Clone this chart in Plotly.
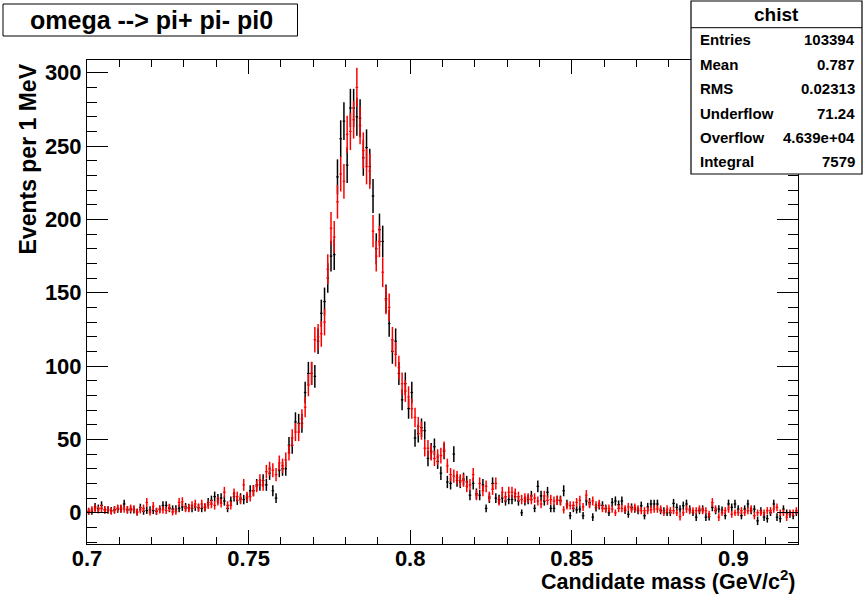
import numpy as np
import plotly.graph_objects as go

# ---------------- data ----------------
bin_lo = 0.700
bin_w = 0.001
n_bins = 220

black_counts = [
    1, 1, 4, 3, 5, 2, 2, 1.5, 2, 2.5,
    2.5, 6, 2, 2, 2, 0.5, 3.5, 1, 1.5, 2,
    1.5, 1, 2.5, 5, 5, 3, 2.5, 2.5, 3, 4,
    4, 3.5, 3, 4, 3.5, 3, 3.5, 7, 8.5, 11,
    9.5, 10, 8, 3, 8, 11, 8.5, 10, 9, 10,
    15, 15, 19, 19, 22, 19, 27, 15, 10, 29,
    30, 30, 46, 46, 62, 61, 61, 82, 95, 95,
    93, 117, 136, 144, 160, 175, 176, 229, 255, 267,
    237, 276, 276, 270, 269, 242, 249, 236, 216, 180,
    193, 185, 146, 129, 110, 117, 95, 77, 88, 71,
    82, 51, 54, 58, 56, 37, 42, 45, 35, 27,
    42, 21, 20, 40, 22, 21, 23, 21, 12, 20,
    13, 12, 19, 3, 10, 20, 10, 9, 10, 8,
    9, 9, 11, 8, 0, 8, 9, 11.5, 3, 18,
    11.5, 8, 14, 3, 3, 8.5, 8.5, 15, 6, -2,
    3, 2, 2.5, -2, 8, 7, -3, 3.5, 5, 5,
    3, 0, 7, 8, 5.5, 8, 1.5, -1, 3.7, 2.5,
    1.4, 4.8, -2, 4, 6, 6, 6, 1.4, 1.4, 0,
    0, 6.4, 3.7, 2.5, 4.8, 6, 2.5, 0, -3, 1.4,
    2.5, -3, -2.7, 3.7, 1.4, 2.5, 1.8, -2, 6, 3.7,
    6, 2.5, -2, 2.5, 6, 1.4, 2.5, -5.5, 1.4, -3,
    -4, 0, 6, -3, -4, 2.5, 0, -1, -2, 0,
]

red_counts = [
    1, 2, 3, 2, 3, 2, 2, 1, 2, 3,
    3, 2.5, 2, 3, 2.5, 0.5, 2, 3, 7, 0.5,
    4.5, 1, 2, 2, 1.5, 3.5, 0.5, 1, 7, 7.5,
    3, 3, 5, 6, 3.5, 6, 4, 5.5, 6, 5,
    8, 6.5, 14, 5, 5, 13, 11, 9, 19, 11,
    11, 15, 18, 22, 19, 28, 30, 29, 26, 34,
    32, 36, 41, 51, 55, 55, 64, 72, 87, 95,
    118, 120, 122, 130, 166, 194, 188, 212, 231, 226,
    258, 260, 268, 290, 264, 247, 236, 233, 192, 175,
    185, 164, 145, 140, 118, 108, 99, 88, 83, 79,
    71, 65, 59, 56, 44, 44, 41, 37, 38, 39,
    43, 32, 26, 25, 24, 22, 22, 18, 19, 26,
    12, 20, 15, 18, 11, 16, 20, 8, 14, 11,
    14, 14, 13, 11, 9, 10, 10, 9, 10, 8,
    6, 11.5, 8.5, 9, 8, 8.5, 8, 2, 5, 5,
    5, 7, 8.5, 4, 12, 6, 8, 5, 6, 3,
    2.5, 3, 2.5, 0, 3, 3, 2.5, 4, 2.5, 3.6,
    2.5, 1.4, 1.4, 1.4, 2, 2.5, 2.5, 2.5, 0, 2.5,
    1.4, 1.4, 0, -2.7, 0, 2.5, 1.4, 1.4, 1.4, 2.5,
    1.4, 1.4, -1, 7, 2.5, -3, 0, 1.4, 2.5, -1,
    0, 0, 1.4, 0, 1.4, 2.5, -2, 0, 0, 0,
    1.4, 1.4, 2.5, 3.7, 0, 0, -3, 0, 0, 1.4,
]

x_ticks = [0.7, 0.75, 0.8, 0.85, 0.9]
x_ticklabels = ["0.7", "0.75", "0.8", "0.85", "0.9"]
y_ticks = [0, 50, 100, 150, 200, 250, 300]

title_text = "omega --&gt; pi+ pi- pi0"
stats_title = "chist"
stats_labels = ["Entries", "Mean", "RMS", "Underflow", "Overflow", "Integral"]
stats_values = ["103394", "0.787", "0.02313", "71.24", "4.639e+04", "7579"]

# ---------------- derived ----------------
centers = bin_lo + bin_w * (np.arange(n_bins) + 0.5)
black = np.array(black_counts, dtype=float)
red = np.array(red_counts, dtype=float)
black_err = np.sqrt(0.6 * np.abs(black) + 5)
red_err = np.sqrt(0.6 * np.abs(red) + 5)

FONT = "Liberation Sans, Arial, Helvetica, sans-serif"

W, H = 865, 602
L, R, T, B = 87, 798, 60, 544  # plot frame in pixels


def X(px):
    return (px - L) / (R - L)


def Y(py):
    return (B - py) / (B - T)


fig = go.Figure()


def add_hist(y, err, color):
    fig.add_trace(go.Scatter(
        x=centers, y=y, mode="markers",
        marker=dict(size=1, color=color),
        error_x=dict(type="constant", value=bin_w * 0.4, width=0,
                     thickness=1.2, color=color),
        error_y=dict(type="data", array=err, width=0,
                     thickness=1.5, color=color),
        showlegend=False, hoverinfo="x+y",
    ))


add_hist(black, black_err, "#000000")
add_hist(red, red_err, "#ff0000")

axis_common = dict(
    showline=True, linecolor="black", linewidth=1, mirror="allticks",
    ticks="inside", tickcolor="black", tickwidth=1,
    showgrid=False, zeroline=False,
    tickfont=dict(family=FONT, size=22, color="black", weight="bold"),
)

fig.update_xaxes(
    range=[0.7, 0.92], tickvals=x_ticks, ticktext=x_ticklabels, ticklen=14,
    ticklabelstandoff=-5,
    minor=dict(dtick=0.01, tick0=0.7, ticks="inside", ticklen=7,
               tickcolor="black", tickwidth=1, showgrid=False),
    **axis_common,
)
fig.update_yaxes(
    range=[-21.3, 308.7], tickvals=y_ticks, ticklen=21,
    minor=dict(dtick=10, tick0=0, ticks="inside", ticklen=10,
               tickcolor="black", tickwidth=1, showgrid=False),
    **axis_common,
)

shapes = []
annotations = []

# title box
shapes.append(dict(type="rect", xref="paper", yref="paper",
                   x0=X(3), x1=X(297.5), y0=Y(36), y1=Y(4),
                   line=dict(color="black", width=1), fillcolor="white",
                   layer="above"))
annotations.append(dict(text=title_text, xref="paper", yref="paper",
                        x=X(151), y=Y(20), xanchor="center", yanchor="middle",
                        showarrow=False,
                        font=dict(family=FONT, size=25, color="black", weight="bold")))

# stats box
sx0, sx1, sy0, sy1 = 691, 862, 1, 174
shapes.append(dict(type="rect", xref="paper", yref="paper",
                   x0=X(sx0), x1=X(sx1), y0=Y(sy1), y1=Y(sy0),
                   line=dict(color="black", width=1.2), fillcolor="white",
                   layer="above"))
sep = 27.7
shapes.append(dict(type="line", xref="paper", yref="paper",
                   x0=X(sx0), x1=X(sx1), y0=Y(sep), y1=Y(sep),
                   line=dict(color="black", width=1), layer="above"))
annotations.append(dict(text=stats_title, xref="paper", yref="paper",
                        x=X((sx0 + sx1) / 2), y=Y(15), xanchor="center",
                        yanchor="middle", showarrow=False,
                        font=dict(family=FONT, size=19, color="black", weight="bold")))
row_h = (sy1 - sep) / len(stats_labels)
for i, (lab, val) in enumerate(zip(stats_labels, stats_values)):
    yc = sep + row_h * (i + 0.5)
    annotations.append(dict(text=lab, xref="paper", yref="paper",
                            x=X(698), y=Y(yc), xanchor="left", yanchor="middle",
                            showarrow=False,
                            font=dict(family=FONT, size=15, color="black", weight="bold")))
    annotations.append(dict(text=val, xref="paper", yref="paper",
                            x=X(857), y=Y(yc), xanchor="right", yanchor="middle",
                            showarrow=False,
                            font=dict(family=FONT, size=15, color="black", weight="bold")))

# axis titles
annotations.append(dict(text="Events per 1 MeV", xref="paper", yref="paper",
                        x=X(27), y=Y(62), xanchor="center", yanchor="top",
                        textangle=-90, showarrow=False,
                        font=dict(family=FONT, size=23, color="black", weight="bold")))
annotations.append(dict(text="Candidate mass (GeV/c<sup>2</sup>)", xref="paper", yref="paper",
                        x=X(798), y=Y(580), xanchor="right", yanchor="middle",
                        showarrow=False,
                        font=dict(family=FONT, size=21.5, color="black", weight="bold")))

fig.update_layout(
    width=W, height=H,
    margin=dict(l=L, r=W - R, t=T, b=H - B, pad=0),
    paper_bgcolor="white", plot_bgcolor="white",
    shapes=shapes, annotations=annotations,
    showlegend=False,
)

fig.write_html("out.html")
